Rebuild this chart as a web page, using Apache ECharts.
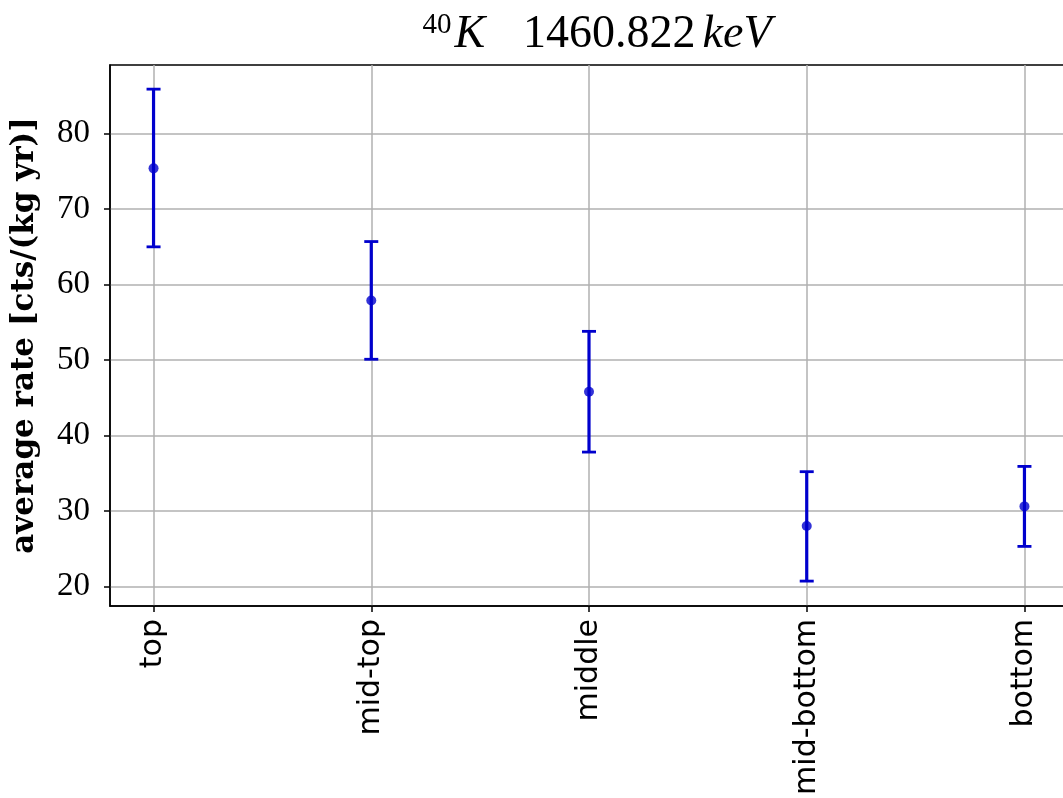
<!DOCTYPE html>
<html><head><meta charset="utf-8">
<script src="https://cdn.jsdelivr.net/npm/echarts@6/dist/echarts.min.js"></script>
<style>html,body{margin:0;padding:0;background:#fff}#c{width:1063px;height:798px}</style>
</head><body><div id="c"></div>
<script>
const categories = ['top', 'mid-top', 'middle', 'mid-bottom', 'bottom'];
const rates = [75.4, 57.9, 45.8, 28.0, 30.6];
const lowErr = [65.0, 50.1, 37.8, 20.7, 25.3];
const highErr = [85.9, 65.7, 53.8, 35.2, 35.9];
const yTicks = [20, 30, 40, 50, 60, 70, 80];
const xTicks = [0, 1, 2, 3, 4];

const blue = '#0000CD';
const chart = echarts.init(document.getElementById('c'), null, {renderer: 'canvas'});
chart.setOption({
  animation: false,
  backgroundColor: '#fff',
  title: {
    text: '{sup|40}{it|K}{n|1460.822}{it2|keV}',
    left: 592, top: 6, textAlign: 'center',
    textStyle: {
      fontWeight: 'normal',
      rich: {
        sup: {fontFamily: 'Liberation Serif', fontWeight: 'normal', fontSize: 29, verticalAlign: 'top', padding: [0,3,18,0], color: '#000'},
        it: {fontFamily: 'Liberation Serif', fontWeight: 'normal', fontStyle: 'italic', fontSize: 46, color: '#000', padding: [0,38,0,0]},
        it2: {fontFamily: 'Liberation Serif', fontWeight: 'normal', fontStyle: 'italic', fontSize: 46, color: '#000', padding: [0,0,0,7]},
        n: {fontFamily: 'Liberation Serif', fontWeight: 'normal', fontSize: 46, color: '#000'}
      }
    }
  },
  grid: {left: 110, right: -5, top: 65, bottom: 192, outerBoundsMode: 'none', containLabel: false, show: true, borderColor: '#000', borderWidth: 1.5, backgroundColor: 'transparent'},
  xAxis: {
    type: 'value', min: -0.2, max: 4.2,
    axisLine: {show: true, onZero: false, lineStyle: {color: '#000', width: 1.5}},
    axisTick: {show: true, customValues: xTicks, length: 6, lineStyle: {color: '#000', width: 1.5}},
    axisLabel: {customValues: xTicks, rotate: 90, fontFamily: 'DejaVu Sans', fontSize: 30, color: '#000', margin: 13,
      formatter: v => categories[Math.round(v)] || ''},
    splitLine: {show: true, lineStyle: {color: '#b0b0b0', width: 1.5}}
  },
  yAxis: {
    type: 'value', min: 17.4, max: 89.1,
    name: 'average rate [cts/(kg yr)]', nameLocation: 'middle', nameGap: 70,
    nameTextStyle: {fontFamily: 'DejaVu Serif', fontWeight: 'bold', fontSize: 31, color: '#000'},
    axisLine: {show: true, onZero: false, lineStyle: {color: '#000', width: 1.5}},
    axisTick: {show: true, customValues: yTicks, length: 6, lineStyle: {color: '#000', width: 1.5}},
    axisLabel: {customValues: yTicks, fontFamily: 'Liberation Serif', fontSize: 33, color: '#000', margin: 20},
    splitLine: {show: true, lineStyle: {color: '#b0b0b0', width: 1.5}}
  },
  series: [
    {
      type: 'custom',
      data: categories.map((c, i) => [i, lowErr[i], highErr[i]]),
      renderItem: function (params, api) {
        const x = api.value(0);
        const lo = api.coord([x, api.value(1)]);
        const hi = api.coord([x, api.value(2)]);
        const cap = 7;
        const st = {stroke: blue, lineWidth: 3.2};
        return {type: 'group', children: [
          {type: 'line', shape: {x1: lo[0], y1: lo[1], x2: hi[0], y2: hi[1]}, style: st},
          {type: 'line', shape: {x1: lo[0]-cap, y1: lo[1], x2: lo[0]+cap, y2: lo[1]}, style: {stroke: blue, lineWidth: 2.8}},
          {type: 'line', shape: {x1: hi[0]-cap, y1: hi[1], x2: hi[0]+cap, y2: hi[1]}, style: {stroke: blue, lineWidth: 2.8}}
        ]};
      },
      z: 3
    },
    {
      type: 'scatter',
      data: categories.map((c, i) => [i, rates[i]]),
      symbol: 'circle', symbolSize: 10,
      itemStyle: {color: blue},
      z: 4
    }
  ]
});
</script></body></html>
